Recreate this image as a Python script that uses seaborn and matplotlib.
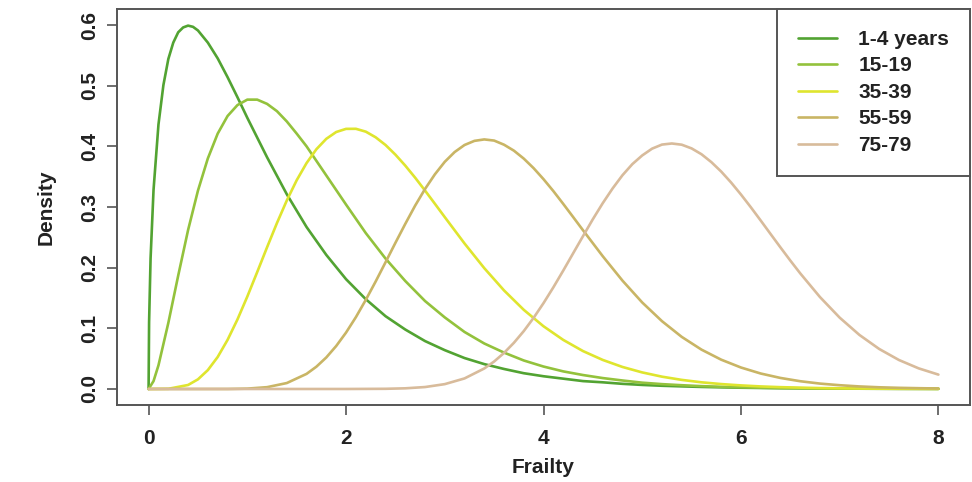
import pandas as pd
import matplotlib
matplotlib.use("Agg")
import matplotlib.pyplot as plt
import seaborn as sns

# Frailty density curves per age group
groups = ["1-4 years", "15-19", "35-39", "55-59", "75-79"]
colors = ["#52a332", "#93c23c", "#dfe52e", "#c9b565", "#d8bb9b"]

x_1_4 = [0, 0.005, 0.02, 0.05, 0.1, 0.15, 0.2, 0.25, 0.3, 0.35, 0.4, 0.45, 0.5, 0.6, 0.7, 0.8,
         0.9, 1.0, 1.2, 1.4, 1.6, 1.8, 2.0, 2.2, 2.4, 2.6, 2.8, 3.0, 3.2, 3.4, 3.6, 3.8, 4.0,
         4.2, 4.4, 4.6, 4.8, 5.0, 5.2, 5.4, 5.6, 5.8, 6.0, 6.2, 6.4, 6.6, 6.8, 7.0, 7.2, 7.4,
         7.6, 7.8, 8.0]
y_1_4 = [0, 0.110, 0.215, 0.328, 0.436, 0.501, 0.544, 0.571, 0.588, 0.596, 0.599, 0.597,
         0.591, 0.571, 0.545, 0.514, 0.481, 0.447, 0.382, 0.321, 0.267, 0.221, 0.181, 0.148,
         0.120, 0.098, 0.079, 0.064, 0.051, 0.041, 0.033, 0.026, 0.021, 0.017, 0.013, 0.011,
         0.0085, 0.0067, 0.0053, 0.0043, 0.0034, 0.0027, 0.0021, 0.0017, 0.0013, 0.0011,
         0.0008, 0.0007, 0.0005, 0.0004, 0.0003, 0.0003, 0.0002]

x_15_19 = [0, 0.05, 0.1, 0.2, 0.3, 0.4, 0.5, 0.6, 0.7, 0.8, 0.9, 1.0, 1.1, 1.2, 1.3, 1.4, 1.5,
           1.6, 1.7, 1.8, 1.9, 2.0, 2.2, 2.4, 2.6, 2.8, 3.0, 3.2, 3.4, 3.6, 3.8, 4.0, 4.2, 4.4,
           4.6, 4.8, 5.0, 5.2, 5.4, 5.6, 5.8, 6.0, 6.2, 6.4, 6.6, 6.8, 7.0, 7.2, 7.4, 7.6, 7.8,
           8.0]
y_15_19 = [0, 0.013, 0.039, 0.109, 0.187, 0.262, 0.327, 0.380, 0.421, 0.450, 0.468, 0.477,
           0.477, 0.470, 0.458, 0.441, 0.421, 0.400, 0.376, 0.352, 0.328, 0.304, 0.257, 0.215,
           0.178, 0.145, 0.118, 0.094, 0.075, 0.060, 0.047, 0.037, 0.029, 0.023, 0.018, 0.014,
           0.0104, 0.0080, 0.0062, 0.0047, 0.0036, 0.0027, 0.0021, 0.0016, 0.0012, 0.0009,
           0.0007, 0.0005, 0.0004, 0.0003, 0.0002, 0.0002]

x_35_39 = [0, 0.2, 0.4, 0.5, 0.6, 0.7, 0.8, 0.9, 1.0, 1.1, 1.2, 1.3, 1.4, 1.5, 1.6, 1.7, 1.8,
           1.9, 2.0, 2.1, 2.2, 2.3, 2.4, 2.5, 2.6, 2.7, 2.8, 2.9, 3.0, 3.2, 3.4, 3.6, 3.8, 4.0,
           4.2, 4.4, 4.6, 4.8, 5.0, 5.2, 5.4, 5.6, 5.8, 6.0, 6.2, 6.4, 6.6, 6.8, 7.0, 7.2, 7.4,
           7.6, 7.8, 8.0]
y_35_39 = [0, 0.0003, 0.0066, 0.0159, 0.0311, 0.0528, 0.0810, 0.1146, 0.1524, 0.1927, 0.2336,
           0.2735, 0.3108, 0.3441, 0.3724, 0.3953, 0.4124, 0.4236, 0.4288, 0.4289, 0.4242,
           0.4149, 0.4022, 0.3863, 0.3682, 0.3483, 0.3271, 0.3053, 0.2833, 0.2399, 0.1992,
           0.1625, 0.1305, 0.1034, 0.0809, 0.0625, 0.0479, 0.0363, 0.0273, 0.0203, 0.0150,
           0.0110, 0.0081, 0.0059, 0.0042, 0.0030, 0.0022, 0.0015, 0.0011, 0.0008, 0.0005,
           0.0004, 0.0003, 0.0002]

x_55_59 = [0, 0.4, 0.8, 1.0, 1.2, 1.4, 1.6, 1.7, 1.8, 1.9, 2.0, 2.1, 2.2, 2.3, 2.4, 2.5, 2.6,
           2.7, 2.8, 2.9, 3.0, 3.1, 3.2, 3.3, 3.4, 3.5, 3.6, 3.7, 3.8, 3.9, 4.0, 4.1, 4.2, 4.3,
           4.4, 4.6, 4.8, 5.0, 5.2, 5.4, 5.6, 5.8, 6.0, 6.2, 6.4, 6.6, 6.8, 7.0, 7.2, 7.4, 7.6,
           7.8, 8.0]
y_55_59 = [0, 0, 0, 0.0006, 0.0030, 0.0098, 0.0249, 0.0368, 0.0520, 0.0708, 0.0930, 0.1185,
           0.1469, 0.1772, 0.2089, 0.2409, 0.2722, 0.3023, 0.3297, 0.3539, 0.3745, 0.3906,
           0.4022, 0.4090, 0.4114, 0.4095, 0.4027, 0.3929, 0.3798, 0.3640, 0.3459, 0.3262,
           0.3051, 0.2835, 0.2617, 0.2189, 0.1786, 0.1426, 0.1118, 0.0859, 0.0649, 0.0483,
           0.0354, 0.0255, 0.0182, 0.0128, 0.0089, 0.0062, 0.0042, 0.0028, 0.0019, 0.0013,
           0.0008]

x_75_79 = [0, 1.0, 2.0, 2.4, 2.6, 2.8, 3.0, 3.2, 3.4, 3.5, 3.6, 3.7, 3.8, 3.9, 4.0, 4.1, 4.2,
           4.3, 4.4, 4.5, 4.6, 4.7, 4.8, 4.9, 5.0, 5.1, 5.2, 5.3, 5.4, 5.5, 5.6, 5.7, 5.8, 5.9,
           6.0, 6.1, 6.2, 6.3, 6.4, 6.5, 6.6, 6.8, 7.0, 7.2, 7.4, 7.6, 7.8, 8.0]
y_75_79 = [0, 0, 0, 0.0003, 0.0011, 0.0032, 0.0080, 0.0174, 0.0338, 0.0453, 0.0594, 0.0761,
           0.0954, 0.1173, 0.1415, 0.1676, 0.1952, 0.2236, 0.2519, 0.2799, 0.3063, 0.3306,
           0.3524, 0.3707, 0.3850, 0.3962, 0.4029, 0.4047, 0.4027, 0.3966, 0.3870, 0.3740,
           0.3584, 0.3404, 0.3206, 0.2996, 0.2777, 0.2555, 0.2334, 0.2117, 0.1907, 0.1516,
           0.1176, 0.0891, 0.0660, 0.0478, 0.0340, 0.0237]

xs = [x_1_4, x_15_19, x_35_39, x_55_59, x_75_79]
ys = [y_1_4, y_15_19, y_35_39, y_55_59, y_75_79]

df = pd.concat(
    [pd.DataFrame({"Frailty": x, "Density": y, "group": g}) for g, x, y in zip(groups, xs, ys)],
    ignore_index=True,
)

sns.set_style("white")
plt.rcParams["font.family"] = ["Liberation Sans", "DejaVu Sans"]
plt.rcParams["font.weight"] = "bold"

fig = plt.figure(figsize=(9.72, 4.82), dpi=100)
ax = fig.add_axes([117 / 972, 1 - 405 / 482, 853 / 972, 396 / 482])

sns.lineplot(data=df, x="Frailty", y="Density", hue="group", hue_order=groups,
             palette=colors, estimator=None, sort=False, linewidth=1.9, legend=False, ax=ax)

ax.set_xlim(-0.32, 8.32)
ax.set_ylim(-0.0264, 0.6264)
ax.set_xticks([0, 2, 4, 6, 8])
ax.set_xticklabels(["0", "2", "4", "6", "8"])
ax.set_yticks([0, 0.1, 0.2, 0.3, 0.4, 0.5, 0.6])
ax.set_yticklabels(["0.0", "0.1", "0.2", "0.3", "0.4", "0.5", "0.6"])

for s in ax.spines.values():
    s.set_color("#555555")
    s.set_linewidth(1.4)
    s.set_visible(True)

ax.tick_params(axis="both", bottom=True, left=True, direction="out", length=7, width=1.2,
               color="#555555", labelsize=15, labelcolor="#222222")
ax.tick_params(axis="x", pad=10)
ax.tick_params(axis="y", pad=6, labelrotation=90)
for lab in ax.get_yticklabels():
    lab.set_va("center")

ax.set_xlabel("Frailty", fontsize=15, fontweight="bold", color="#222222")
ax.set_ylabel("Density", fontsize=15, fontweight="bold", color="#222222")
ax.xaxis.set_label_coords(0.5, -0.157)
ax.xaxis.label.set_va("center")
ax.yaxis.set_label_coords(-0.083, 0.5)
ax.yaxis.label.set_va("center")

leg = ax.legend(ax.lines, groups, loc="upper right", bbox_to_anchor=(1, 1), borderaxespad=0,
                fancybox=False, framealpha=1, edgecolor="#555555",
                handlelength=1.9, handletextpad=1.0, borderpad=1.0, labelspacing=0.36,
                prop={"weight": "bold", "size": 15})
leg.get_frame().set_linewidth(1.4)
for t in leg.get_texts():
    t.set_color("#222222")

fig.savefig("out.png", dpi=100)
